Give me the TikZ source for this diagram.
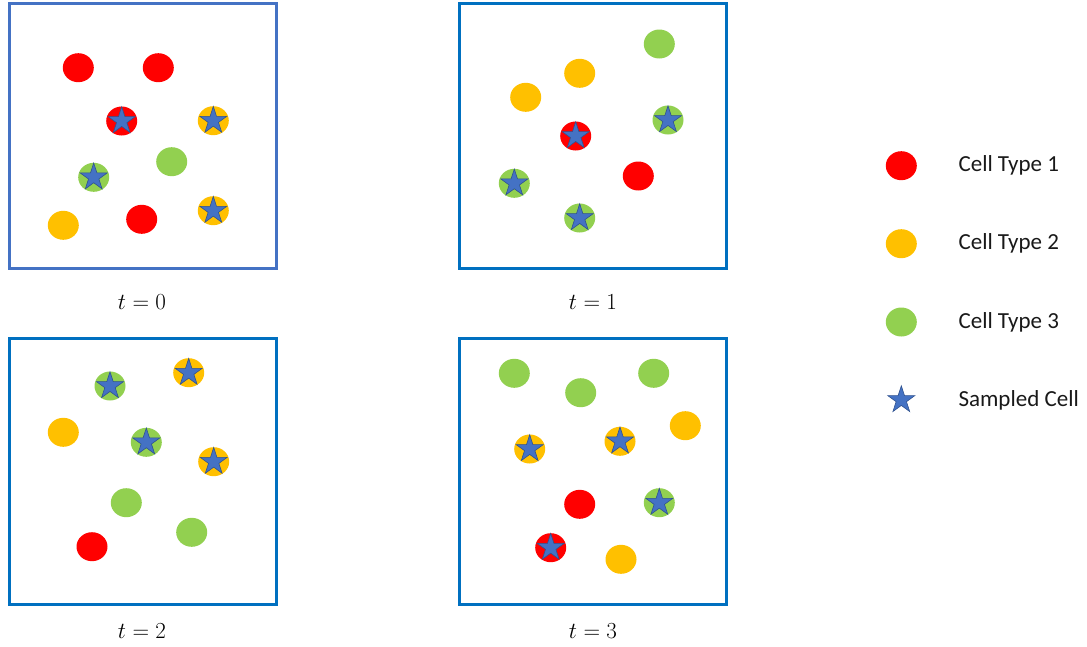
\RequirePackage{fix-cm}
\documentclass[tikz,border=0pt]{standalone}
\usepackage{fontspec}
\setmainfont{Carlito}
\usetikzlibrary{shapes.geometric}
\definecolor{cred}{HTML}{FF0000}
\definecolor{cyel}{HTML}{FFC000}
\definecolor{cgrn}{HTML}{92D050}
\definecolor{starblue}{HTML}{4472C4}
\definecolor{stardark}{HTML}{2F528F}
\definecolor{boxA}{HTML}{4472C4}
\definecolor{boxB}{HTML}{0070C0}
\tikzset{
  cellbase/.style={ellipse, inner sep=0pt, minimum width=31, minimum height=29},
  r/.style={cellbase, fill=cred},
  yl/.style={cellbase, fill=cyel},
  g/.style={cellbase, fill=cgrn},
  smp/.style={star, star points=5, star point ratio=2.618, fill=starblue, draw=stardark, line width=0.6pt, minimum size=28.5, inner sep=0pt},
  panel/.style={draw, line width=2.8pt, minimum width=267.5, minimum height=265.5, inner sep=0pt},
  tlabel/.style={font=\fontsize{23}{27}\selectfont},
  legtext/.style={anchor=west, font=\fontsize{23}{27}\selectfont, text=black!90}
}
\begin{document}
\begin{tikzpicture}[x=1pt,y=-1pt]
\useasboundingbox (0,0) rectangle (1087,646);
% panels
\node[panel, draw=boxA] (p0) at (143,136) {};
\node[panel, draw=boxB] (p1) at (593,136) {};
\node[panel, draw=boxB] (p2) at (143,471.5) {};
\node[panel, draw=boxB] (p3) at (593,471.5) {};
% labels
\node[tlabel] (l0) at (142,302) {$t=0$};
\node[tlabel] (l1) at (593,302) {$t=1$};
\node[tlabel] (l2) at (142,631) {$t=2$};
\node[tlabel] (l3) at (593,631) {$t=3$};
% panel t=0
\node[r] (a1) at (78.3,67.7) {};
\node[r] (a2) at (158.3,67.7) {};
\node[r] (a3) at (121.7,121) {};
\node[smp] (a3s) at (a3) {};
\node[yl] (a4) at (213.3,120.7) {};
\node[smp] (a4s) at (a4) {};
\node[g] (a5) at (171.7,161.7) {};
\node[g] (a6) at (93.7,177.3) {};
\node[smp] (a6s) at (a6) {};
\node[yl] (a7) at (63.3,225.3) {};
\node[r] (a8) at (141.7,219.3) {};
\node[yl] (a9) at (213.3,210.7) {};
\node[smp] (a9s) at (a9) {};
% panel t=1
\node[g] (b1) at (659.3,44) {};
\node[yl] (b2) at (579.7,73.3) {};
\node[yl] (b3) at (525.7,97.3) {};
\node[r] (b4) at (575.7,136) {};
\node[smp] (b4s) at (b4) {};
\node[g] (b5) at (668,120) {};
\node[smp] (b5s) at (b5) {};
\node[r] (b6) at (638.3,176) {};
\node[g] (b7) at (514.3,183.3) {};
\node[smp] (b7s) at (b7) {};
\node[g] (b8) at (579.7,218) {};
\node[smp] (b8s) at (b8) {};
% panel t=2
\node[g] (c1) at (110,386) {};
\node[smp] (c1s) at (c1) {};
\node[yl] (c2) at (188.7,372.7) {};
\node[smp] (c2s) at (c2) {};
\node[yl] (c3) at (63.3,432.3) {};
\node[g] (c4) at (146.3,442.3) {};
\node[smp] (c4s) at (c4) {};
\node[yl] (c5) at (213.7,461.7) {};
\node[smp] (c5s) at (c5) {};
\node[g] (c6) at (126.3,502.7) {};
\node[g] (c7) at (191.7,532.3) {};
\node[r] (c8) at (92,546.7) {};
% panel t=3
\node[g] (d1) at (514.3,373.3) {};
\node[g] (d2) at (580.7,392.7) {};
\node[g] (d3) at (653.7,373.3) {};
\node[yl] (d4) at (685.3,425.7) {};
\node[yl] (d5) at (529.7,449) {};
\node[smp] (d5s) at (d5) {};
\node[yl] (d6) at (620,441.3) {};
\node[smp] (d6s) at (d6) {};
\node[r] (d7) at (579.7,504.3) {};
\node[g] (d8) at (659.3,502.7) {};
\node[smp] (d8s) at (d8) {};
\node[r] (d9) at (550.7,547.7) {};
\node[smp] (d9s) at (d9) {};
\node[yl] (d10) at (621,559.3) {};
% legend
\node[r] (k1) at (901.3,165.7) {};
\node[legtext] (k1t) at (955,165.7) {Cell Type 1};
\node[yl] (k2) at (901.3,243.7) {};
\node[legtext] (k2t) at (955,243.7) {Cell Type 2};
\node[g] (k3) at (901.3,322) {};
\node[legtext] (k3t) at (955,322) {Cell Type 3};
\node[smp] (k4) at (901.3,400) {};
\node[legtext] (k4t) at (955,400) {Sampled Cell};
\end{tikzpicture}
\end{document}
